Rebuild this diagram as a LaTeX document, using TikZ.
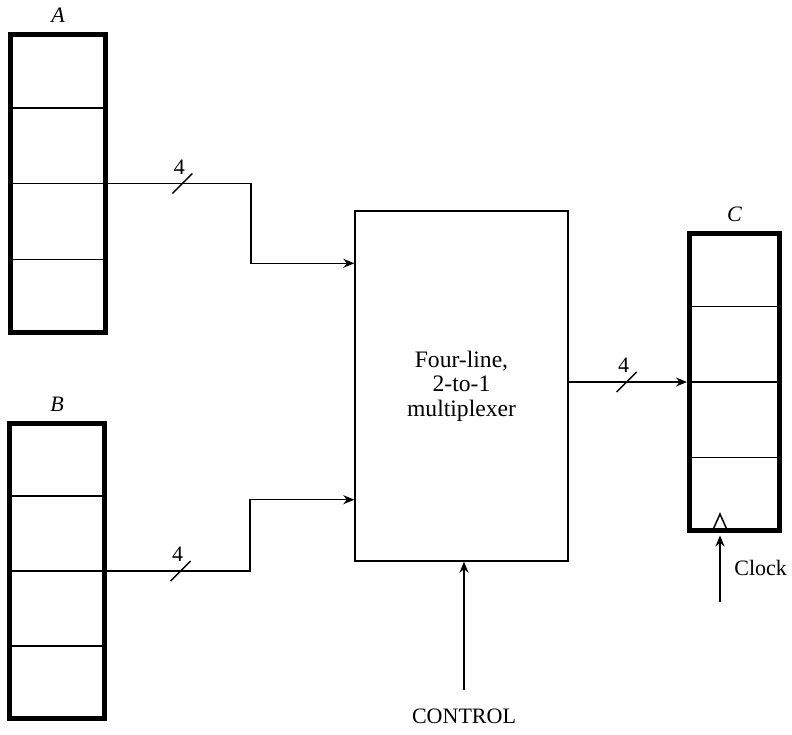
\documentclass[tikz,border=0pt]{standalone}
\usepackage{fontspec}
\setmainfont{Liberation Serif}
\usetikzlibrary{arrows.meta, positioning, calc}
\tikzset{
  reg/.style    ={rectangle, draw, line width=2.5pt, minimum width=47.5pt, inner sep=0pt},
  muxbox/.style ={rectangle, draw, line width=0.7pt, minimum width=106.5pt,
                  minimum height=175pt, align=center, font=\fontsize{11.8}{12.3}\selectfont},
  wire/.style   ={line width=0.75pt},
  ar/.style     ={wire, -{Stealth[length=5.5pt, width=4.5pt]}},
  regname/.style={font=\fontsize{11}{13}\selectfont\itshape, inner sep=0pt},
  txt/.style    ={font=\fontsize{11}{13}\selectfont, inner sep=0pt},
}
\begin{document}
\begin{tikzpicture}[x=0.5pt, y=-0.5pt]
\useasboundingbox (0,0) rectangle (792,734);
% registers and multiplexer
\node[reg, minimum height=149pt] (A) at (58,183.5) {};
\node[reg, minimum height=147.5pt] (B) at (57,571) {};
\node[reg, minimum width=45pt, minimum height=148.5pt] (C) at (734.5,382) {};
\node[muxbox] (mux) at (461.5,386) {Four-line,\\2-to-1\\multiplexer};
\node[regname, above=4.5pt of A] (lA) {A};
\node[regname, above=4.5pt of B] (lB) {B};
\node[regname, above=4.5pt of C] (lC) {C};
\foreach \r in {A,B,C}
  \foreach \f in {0.25,0.5,0.75}
    \draw[wire] ($(\r.north west)!\f!(\r.south west)$) -- ($(\r.north east)!\f!(\r.south east)$);
% inputs
\coordinate (kA) at (251,0);
\coordinate (kB) at (250,0);
\coordinate (inA) at ($(mux.north west)+(0,53)$);
\coordinate (inB) at ($(mux.south west)+(0,-62)$);
\draw[ar] (A.east) -- coordinate[pos=0.52] (sA) (kA |- A.east) |- (inA);
\draw[ar] (B.east) -- coordinate[pos=0.515] (sB) (kB |- B.east) |- (inB);
% output
\draw[ar] (C.west -| mux.east) -- coordinate[pos=0.49] (sC) (C.west);
\foreach \s in {sA,sB,sC} {
  \draw[wire] ($(\s)+(-10,10)$) -- ($(\s)+(10,-10)$);
  \node[txt, anchor=south] (n\s) at ($(\s)+(-3,-9)$) {4};
}
% control and clock
\node[txt] (ctl) at (464,716) {CONTROL};
\draw[ar] ([yshift=9pt]ctl.north) -- (ctl.north |- mux.south);
\coordinate (tri) at (720,0);
\draw[wire] ($(tri |- C.south)+(-8,-1)$) -- ($(tri |- C.south)+(0,-19)$) -- ($(tri |- C.south)+(8,-1)$);
\coordinate (clk) at (720,602);
\draw[ar, shorten >=1.2pt] (clk) -- (clk |- C.south);
\node[txt, anchor=west] (clklbl) at (734,568) {Clock};
\end{tikzpicture}
\end{document}
